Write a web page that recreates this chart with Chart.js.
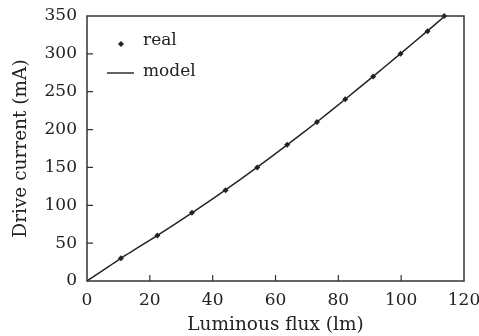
<!DOCTYPE html>
<html>
<head>
<meta charset="utf-8">
<script src="https://cdn.jsdelivr.net/npm/chart.js@4.4.1/dist/chart.umd.min.js"></script>
<style>
  html, body { margin: 0; padding: 0; background: #fff; }
  #wrap { width: 479px; height: 336px; }
</style>
</head>
<body>
<div id="wrap"><canvas id="fluxChart"></canvas></div>
<script>
// measured points
const realFlux = [10.8, 22.4, 33.4, 44.1, 54.2, 63.7, 73.2, 82.2, 91.1, 99.8, 108.4, 113.7];
const realCurrent = [30, 60, 90, 120, 150, 180, 210, 240, 270, 300, 330, 350];

// fitted model curve
const modelFlux = [0, 10.8, 22.3, 33.4, 44.0, 54.1, 63.8, 73.2, 82.2, 91.0, 99.7, 108.3, 113.9];
const modelCurrent = [0, 30, 60, 90, 120, 150, 180, 210, 240, 270, 300, 330, 350];

const xTicks = [0, 20, 40, 60, 80, 100, 120];
const yTicks = [0, 50, 100, 150, 200, 250, 300, 350];

const ink = '#222';
const serif = "'DejaVu Serif', 'Liberation Serif', serif";

const chart_page = {
    points: (xs, ys) => xs.map((x, i) => ({x: x, y: ys[i]})),
    // box around the plot and inward ticks on bottom / left
    frame: {
        id: 'frame',
        afterDraw: (chart) => {
            const {ctx, chartArea: a, scales} = chart;
            ctx.save();
            ctx.strokeStyle = '#333';
            ctx.lineWidth = 1.5;
            ctx.strokeRect(a.left, a.top, a.right - a.left, a.bottom - a.top);
            ctx.lineWidth = 1.2;
            ctx.beginPath();
            xTicks.forEach(v => {
                if (v === 0 || v === 120) return;
                const px = scales.x.getPixelForValue(v);
                ctx.moveTo(px, a.bottom);
                ctx.lineTo(px, a.bottom - 6);
            });
            yTicks.forEach(v => {
                if (v === 0 || v === 350) return;
                const py = scales.y.getPixelForValue(v);
                ctx.moveTo(a.left, py);
                ctx.lineTo(a.left + 6, py);
            });
            ctx.stroke();
            ctx.restore();
        }
    },
    // legend in the upper left corner of the plot
    legendBox: {
        id: 'legendBox',
        afterDraw: (chart) => {
            const {ctx, chartArea: a} = chart;
            const x0 = a.left + 20;
            ctx.save();
            ctx.fillStyle = ink;
            ctx.strokeStyle = ink;
            ctx.font = '17px ' + serif;
            ctx.textBaseline = 'middle';
            // diamond marker
            const mx = x0 + 14, my = a.top + 28;
            ctx.beginPath();
            ctx.moveTo(mx, my - 3);
            ctx.lineTo(mx + 3, my);
            ctx.lineTo(mx, my + 3);
            ctx.lineTo(mx - 3, my);
            ctx.closePath();
            ctx.fill();
            ctx.fillText('real', x0 + 36, a.top + 25);
            // line sample
            ctx.lineWidth = 1.4;
            ctx.beginPath();
            ctx.moveTo(x0, a.top + 57);
            ctx.lineTo(x0 + 27, a.top + 57);
            ctx.stroke();
            ctx.fillText('model', x0 + 36, a.top + 56);
            ctx.restore();
        }
    },
    begin: () => {
        const canvas = document.getElementById('fluxChart');
        new Chart(canvas, {
            type: 'scatter',
            data: {
                datasets: [
                    {
                        label: 'model',
                        data: chart_page.points(modelFlux, modelCurrent),
                        showLine: true,
                        borderColor: ink,
                        borderWidth: 1.5,
                        pointRadius: 0,
                        tension: 0.2,
                        fill: false,
                        clip: false
                    },
                    {
                        label: 'real',
                        data: chart_page.points(realFlux, realCurrent),
                        showLine: false,
                        pointStyle: 'rectRot',
                        pointRadius: 3,
                        backgroundColor: ink,
                        borderColor: ink,
                        borderWidth: 0,
                        clip: false
                    }
                ]
            },
            options: {
                responsive: true,
                maintainAspectRatio: false,
                animation: false,
                layout: {padding: {top: 16, right: 15, left: 0, bottom: 0}},
                plugins: {legend: {display: false}, tooltip: {enabled: false}},
                scales: {
                    x: {
                        type: 'linear',
                        min: 0, max: 120,
                        afterBuildTicks: (s) => { s.ticks = xTicks.map(v => ({value: v})); },
                        afterFit: (s) => { s.height = 55; s.paddingLeft = 0; s.paddingRight = 0; },
                        grid: {display: false, drawTicks: false},
                        border: {display: false},
                        ticks: {color: ink, padding: 9, font: {family: serif, size: 17}, maxRotation: 0},
                        title: {display: true, text: 'Luminous flux (lm)', color: ink,
                            font: {family: serif, size: 18.5}, padding: {top: 0, bottom: 0}}
                    },
                    y: {
                        type: 'linear',
                        min: 0, max: 350,
                        afterBuildTicks: (s) => { s.ticks = yTicks.map(v => ({value: v})); },
                        afterFit: (s) => { s.width = 87; s.paddingTop = 0; s.paddingBottom = 0; },
                        grid: {display: false, drawTicks: false},
                        border: {display: false},
                        ticks: {color: ink, padding: 10, font: {family: serif, size: 17}},
                        title: {display: true, text: 'Drive current (mA)', color: ink,
                            font: {family: serif, size: 18.5}, padding: {top: 10, bottom: 4}}
                    }
                }
            },
            plugins: [chart_page.frame, chart_page.legendBox]
        });
    }
};

chart_page.begin();
</script>
</body>
</html>
